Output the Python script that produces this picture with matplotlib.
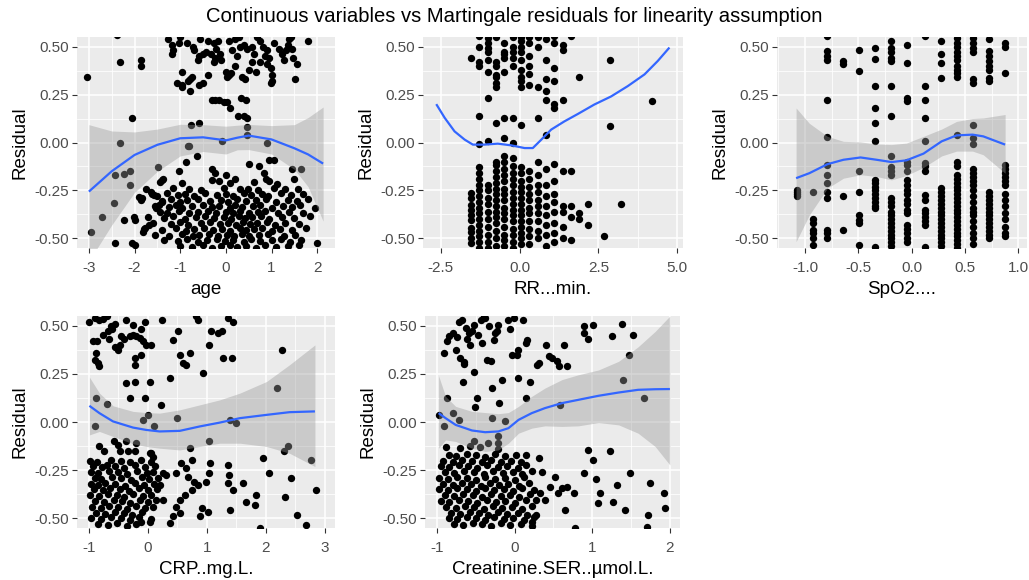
import matplotlib
matplotlib.use("Agg")
import matplotlib.pyplot as plt

plt.rcParams['font.family'] = ['Liberation Sans', 'DejaVu Sans']

# ---------------- data ----------------
title = "Continuous variables vs Martingale residuals for linearity assumption"
x_labels = ["age", "RR...min.", "SpO2....", "CRP..mg.L.", "Creatinine.SER..\u00b5mol.L."]
y_label = "Residual"
y_ticks = [-0.50, -0.25, 0.00, 0.25, 0.50]
y_ticklabels = ["-0.50", "-0.25", "0.00", "0.25", "0.50"]

age_ticks = [-3, -2, -1, 0, 1, 2]
age_ticklabels = ["-3", "-2", "-1", "0", "1", "2"]
rr_ticks = [-2.5, 0.0, 2.5, 5.0]
rr_ticklabels = ["-2.5", "0.0", "2.5", "5.0"]
spo2_ticks = [-1.0, -0.5, 0.0, 0.5, 1.0]
spo2_ticklabels = ["-1.0", "-0.5", "0.0", "0.5", "1.0"]
crp_ticks = [-1, 0, 1, 2, 3]
crp_ticklabels = ["-1", "0", "1", "2", "3"]
crea_ticks = [-1, 0, 1, 2]
crea_ticklabels = ["-1", "0", "1", "2"]

# age panel: (age, residual)
age_points = [
    (-3.04, 0.34), (-2.38, 0.56), (-2.31, 0.42), (-1.85, 0.43), (-1.85, 0.40), (-1.27, 0.54),
    (-1.17, 0.51), (-1.16, 0.48), (-1.18, 0.46), (-1.03, 0.52), (-1.00, 0.55), (-0.97, 0.37),
    (-1.06, 0.31), (-0.97, 0.29), (-0.95, 0.30), (-0.78, 0.27), (-0.78, 0.33), (-0.82, 0.32),
    (-0.74, 0.34), (-0.70, 0.48), (-0.72, 0.50), (-0.62, 0.43), (-0.58, 0.45), (-0.56, 0.54),
    (-0.50, 0.46), (-0.44, 0.47), (-0.33, 0.46), (-0.26, 0.52), (-0.22, 0.49), (-0.17, 0.53),
    (-0.58, 0.30), (-0.50, 0.31), (-0.40, 0.35), (-0.27, 0.42), (-0.23, 0.44), (-0.13, 0.46),
    (-0.10, 0.43), (0.00, 0.37), (0.03, 0.34), (0.06, 0.35), (0.12, 0.36), (0.06, 0.53),
    (0.21, 0.54), (0.28, 0.55), (0.13, 0.48), (0.24, 0.45), (-0.30, 0.22), (-0.23, 0.22),
    (-0.16, 0.22), (-0.05, 0.21), (0.03, 0.21), (0.10, 0.18), (0.26, 0.14), (0.40, 0.14),
    (0.47, 0.13), (0.33, 0.23), (0.44, 0.22), (0.40, 0.51), (0.47, 0.49), (0.58, 0.50),
    (0.62, 0.46), (0.58, 0.42), (0.50, 0.38), (0.43, 0.33), (0.36, 0.34), (0.65, 0.37),
    (0.74, 0.53), (0.81, 0.50), (0.91, 0.48), (0.94, 0.44), (0.91, 0.41), (0.98, 0.39),
    (1.02, 0.35), (1.02, 0.32), (0.98, 0.31), (1.17, 0.49), (1.24, 0.46), (1.28, 0.43),
    (1.31, 0.48), (1.35, 0.51), (1.39, 0.54), (1.42, 0.55), (1.45, 0.49), (1.48, 0.44),
    (1.51, 0.33), (1.55, 0.41), (1.80, 0.53), (0.85, 0.45), (0.75, 0.42), (0.68, 0.55),
    (1.05, 0.52), (-0.85, 0.52), (-0.40, 0.53), (0.20, 0.40), (0.30, 0.50),
    (-2.31, 0.00), (-2.05, 0.13), (-0.84, -0.02), (-0.80, -0.02), (-0.77, 0.09), (-0.58, 0.10),
    (-0.08, 0.01), (0.47, 0.08), (0.47, 0.04), (0.90, 0.00),
    (-0.88, -0.10), (-0.63, -0.07), (-1.03, -0.15), (-0.30, -0.14), (0.50, -0.11), (0.72, -0.12),
    (0.94, -0.09), (1.05, -0.09), (1.45, -0.14), (1.64, -0.14), (0.83, -0.16), (0.87, -0.19),
    (0.00, -0.17), (-0.23, -0.16), (-1.48, -0.13), (-1.39, -0.195),
    (-2.43, -0.172), (-2.23, -0.163), (-2.10, -0.151), (-2.45, -0.317), (-2.71, -0.386),
    (-2.96, -0.469), (-2.43, -0.526), (-2.23, -0.404), (-2.10, -0.221), (-2.01, -0.387),
    (-1.99, -0.404), (-2.05, -0.526), (-1.99, -0.535), (-1.91, -0.282), (-1.83, -0.29),
    (-1.82, -0.469), (-1.76, -0.448), (-1.69, -0.43), (-1.65, -0.256), (-1.58, -0.273),
    (-1.54, -0.343), (-1.47, -0.325), (-1.39, -0.308),
    (-1.45, -0.205), (-1.38, -0.19), (-0.95, -0.21), (-0.30, -0.195), (-0.15, -0.2), (0.08, -0.21),
    (0.20, -0.19), (0.62, -0.205), (0.95, -0.2), (1.12, -0.215), (1.50, -0.19),
    (-1.75, -0.245), (-1.15, -0.235), (-0.80, -0.24), (-0.55, -0.25), (-0.05, -0.235), (0.30, -0.245),
    (0.48, -0.24), (0.70, -0.25), (1.05, -0.235), (1.30, -0.245), (1.58, -0.24),
    (-1.62, -0.27), (-1.50, -0.28), (-1.30, -0.265), (-1.05, -0.275), (-0.90, -0.27), (-0.70, -0.28),
    (-0.45, -0.265), (-0.20, -0.275), (0.00, -0.27), (0.15, -0.28), (0.40, -0.265), (0.55, -0.275),
    (0.80, -0.27), (0.92, -0.28), (1.20, -0.265), (1.42, -0.275), (1.70, -0.27),
    (-1.85, -0.30), (-1.40, -0.305), (-1.20, -0.295), (-1.00, -0.31), (-0.85, -0.30), (-0.62, -0.295),
    (-0.35, -0.305), (-0.10, -0.30), (0.05, -0.31), (0.25, -0.295), (0.45, -0.305), (0.65, -0.30),
    (0.88, -0.295), (1.10, -0.31), (1.35, -0.30), (1.55, -0.305), (1.80, -0.295),
    (-1.55, -0.33), (-1.25, -0.335), (-1.10, -0.325), (-0.95, -0.34), (-0.75, -0.33), (-0.50, -0.325),
    (-0.30, -0.335), (-0.15, -0.33), (0.10, -0.34), (0.20, -0.325), (0.35, -0.335), (0.60, -0.33),
    (0.75, -0.325), (1.00, -0.34), (1.25, -0.33), (1.45, -0.335), (1.62, -0.325), (1.95, -0.34),
    (-1.45, -0.36), (-1.30, -0.365), (-1.02, -0.355), (-0.80, -0.37), (-0.60, -0.36), (-0.40, -0.355),
    (-0.22, -0.365), (0.00, -0.36), (0.15, -0.37), (0.30, -0.355), (0.50, -0.365), (0.70, -0.36),
    (0.85, -0.355), (1.15, -0.37), (1.38, -0.36), (1.70, -0.365),
    (-1.70, -0.39), (-1.35, -0.395), (-1.15, -0.385), (-0.90, -0.40), (-0.65, -0.39), (-0.45, -0.385),
    (-0.25, -0.395), (-0.05, -0.39), (0.12, -0.40), (0.28, -0.385), (0.42, -0.395), (0.58, -0.39),
    (0.78, -0.385), (0.95, -0.40), (1.22, -0.39), (1.50, -0.395), (1.85, -0.385),
    (-1.60, -0.42), (-1.20, -0.425), (-1.00, -0.415), (-0.82, -0.43), (-0.55, -0.42), (-0.35, -0.415),
    (-0.12, -0.425), (0.05, -0.42), (0.22, -0.43), (0.38, -0.415), (0.52, -0.425), (0.68, -0.42),
    (0.90, -0.415), (1.08, -0.43), (1.30, -0.42), (1.60, -0.425),
    (-1.80, -0.45), (-1.40, -0.455), (-1.10, -0.445), (-0.88, -0.46), (-0.70, -0.45), (-0.48, -0.445),
    (-0.28, -0.455), (-0.08, -0.45), (0.10, -0.46), (0.30, -0.445), (0.45, -0.455), (0.62, -0.45),
    (0.80, -0.445), (1.02, -0.46), (1.18, -0.45), (1.45, -0.455), (1.75, -0.445),
    (-1.55, -0.48), (-1.25, -0.485), (-0.95, -0.475), (-0.72, -0.49), (-0.58, -0.48), (-0.38, -0.475),
    (-0.18, -0.485), (0.02, -0.48), (0.18, -0.49), (0.35, -0.475), (0.50, -0.485), (0.72, -0.48),
    (0.92, -0.475), (1.28, -0.49), (1.52, -0.48),
    (-1.35, -0.51), (-1.05, -0.515), (-0.85, -0.505), (-0.62, -0.52), (-0.42, -0.51), (-0.20, -0.505),
    (-0.02, -0.515), (0.15, -0.51), (0.40, -0.52), (0.55, -0.505), (0.75, -0.515), (1.00, -0.51),
    (1.20, -0.505), (1.40, -0.52), (1.65, -0.51),
    (-1.00, -0.54), (-0.75, -0.545), (-0.50, -0.535), (-0.30, -0.55), (-0.10, -0.54), (0.10, -0.535),
    (0.25, -0.545), (0.45, -0.54), (0.65, -0.55), (0.85, -0.535), (1.10, -0.545), (1.35, -0.54),
    (1.60, -0.535), (2.00, -0.525),
]
age_fit_x = [-3.0, -2.5, -2.0, -1.5, -1.0, -0.5, 0.0, 0.25, 0.5, 1.0, 1.5, 1.8, 2.13]
age_fit = [-0.256, -0.15, -0.065, -0.012, 0.022, 0.027, 0.011, 0.025, 0.036, 0.016, -0.03, -0.062, -0.11]
age_hi = [0.093, 0.06, 0.055, 0.07, 0.095, 0.093, 0.085, 0.09, 0.094, 0.088, 0.093, 0.13, 0.185]
age_lo = [-0.62, -0.43, -0.26, -0.15, -0.07, -0.047, -0.06, -0.038, -0.037, -0.06, -0.14, -0.23, -0.41]

# RR panel: discrete levels with residuals at each level
rr_levels = [-1.53, -1.27, -1.00, -0.74, -0.48, -0.21, 0.05, 0.31, 0.58, 0.84,
             1.10, 1.37, 1.63, 1.89, 2.16, 2.68, 2.88, 3.21, 4.20]
rr_res = [
    [0.44, -0.264, -0.29, -0.325, -0.35, -0.378, -0.404, -0.448, -0.465, -0.50, -0.526],
    [0.556, 0.50, 0.42, 0.40, 0.137, -0.01, -0.13, -0.16, -0.19, -0.22, -0.25, -0.28, -0.31, -0.34,
     -0.37, -0.40, -0.43, -0.46, -0.49, -0.52, -0.55],
    [0.547, 0.52, 0.495, 0.47, 0.43, 0.37, 0.233, 0.006, -0.22, -0.25, -0.29, -0.32, -0.36, -0.40,
     -0.44, -0.48, -0.52, -0.55],
    [0.55, 0.42, 0.40, 0.35, 0.34, 0.31, 0.29, 0.10, -0.10, -0.115, -0.15, -0.18, -0.21, -0.24, -0.27,
     -0.30, -0.33, -0.36, -0.39, -0.42, -0.46, -0.50, -0.54],
    [0.52, 0.47, 0.46, 0.44, 0.37, 0.13, 0.024, -0.07, -0.10, -0.14, -0.17, -0.20, -0.24, -0.27, -0.30,
     -0.34, -0.37, -0.40, -0.44, -0.48, -0.51, -0.54],
    [0.55, 0.50, 0.47, 0.44, 0.40, 0.13, 0.0, -0.08, -0.12, -0.16, -0.19, -0.22, -0.26, -0.29, -0.32,
     -0.35, -0.38, -0.41, -0.45, -0.48, -0.52, -0.55],
    [0.55, 0.53, 0.50, 0.47, 0.43, 0.38, 0.34, 0.32, 0.29, 0.093, -0.13, -0.16, -0.20, -0.23, -0.26,
     -0.29, -0.32, -0.35, -0.38, -0.41, -0.44, -0.47, -0.50, -0.53],
    [0.55, 0.52, 0.45, 0.40, 0.355, 0.30, -0.15, -0.19, -0.23, -0.27, -0.30, -0.34, -0.37, -0.41,
     -0.45, -0.49, -0.53],
    [0.55, 0.50, 0.29, 0.13, -0.10, -0.17, -0.22, -0.26, -0.30, -0.33, -0.37, -0.41, -0.46, -0.50],
    [0.54, 0.43, 0.33, 0.27, 0.22, 0.04, -0.14, -0.22, -0.28, -0.33, -0.38, -0.43, -0.48, -0.54],
    [0.556, 0.52, 0.39, 0.32, 0.20, 0.18, -0.11, -0.20, -0.27, -0.31, -0.36, -0.42, -0.47, -0.52],
    [0.51, 0.48, 0.22, -0.15, -0.33, -0.36, -0.44, -0.50],
    [0.556, -0.15, -0.33, -0.39, -0.51],
    [0.34, -0.37, -0.40],
    [-0.32, -0.43],
    [-0.49],
    [0.43, 0.085],
    [-0.32],
    [0.215],
]
rr_fit_x = [-2.64, -2.37, -2.06, -1.74, -1.48, -1.11, -0.69, -0.26, 0.16, 0.42, 0.69, 1.0, 1.42,
            1.85, 2.37, 2.9, 3.43, 3.96, 4.38, 4.75]
rr_fit = [0.20, 0.128, 0.058, 0.015, -0.011, -0.011, -0.006, -0.015, -0.029, -0.029, 0.015, 0.067,
          0.11, 0.149, 0.198, 0.24, 0.294, 0.355, 0.425, 0.495]

# SpO2 panel: discrete levels
spo2_levels = [-1.08, -0.93, -0.79, -0.64, -0.49, -0.34, -0.19, -0.04, 0.12, 0.27, 0.42, 0.57, 0.72, 0.87]
spo2_res = [
    [-0.25, -0.26, -0.27, -0.28],
    [-0.26, -0.40, -0.42, -0.456, -0.474, -0.50, -0.535],
    [0.556, 0.477, 0.45, 0.43, 0.224, 0.027, -0.116, -0.168, -0.212, -0.256, -0.29, -0.456, -0.474, -0.50],
    [0.425, 0.41, -0.28, -0.456],
    [0.48, 0.373, -0.15, -0.26, -0.378, -0.404, -0.42, -0.535],
    [0.495, 0.434, 0.294, 0.18, 0.10, 0.006, -0.195, -0.21, -0.23, -0.25, -0.27, -0.29, -0.31, -0.33,
     -0.343, -0.544],
    [0.53, 0.495, 0.47, 0.44, 0.425, 0.294, 0.137, -0.072, -0.13, -0.15, -0.168, -0.29, -0.31, -0.33,
     -0.36, -0.38, -0.40, -0.42, -0.44, -0.46, -0.48, -0.50, -0.52, -0.54],
    [0.51, 0.416, 0.233, 0.215, -0.10, -0.116, -0.15, -0.195, -0.22, -0.25, -0.27, -0.30, -0.32, -0.35,
     -0.37, -0.43, -0.45, -0.47, -0.50, -0.52],
    [0.556, 0.294, 0.224, 0.128, 0.006, -0.107, -0.125, -0.15, -0.273, -0.30, -0.35, -0.37, -0.39,
     -0.41, -0.43, -0.544],
    [0.53, 0.46, 0.416, 0.338, -0.238, -0.26, -0.28, -0.30, -0.32, -0.34, -0.36, -0.38, -0.40, -0.42,
     -0.44, -0.46, -0.48, -0.50, -0.52, -0.54],
    [0.547, 0.52, 0.50, 0.47, 0.45, 0.43, 0.40, 0.38, 0.36, 0.34, 0.04, -0.10, -0.12, -0.17, -0.19,
     -0.21, -0.23, -0.25, -0.27, -0.29, -0.31, -0.33, -0.35, -0.37, -0.39, -0.41, -0.43, -0.45, -0.47,
     -0.49, -0.51, -0.53, -0.55],
    [0.547, 0.52, 0.495, 0.47, 0.33, 0.31, 0.093, 0.024, -0.01, -0.14, -0.16, -0.18, -0.20, -0.22,
     -0.25, -0.28, -0.31, -0.34, -0.36, -0.38, -0.41, -0.44, -0.47, -0.50, -0.53],
    [0.54, 0.477, 0.45, 0.425, 0.40, 0.38, 0.338, 0.32, -0.26, -0.28, -0.30, -0.32, -0.34, -0.36,
     -0.38, -0.40, -0.42, -0.44, -0.46, -0.48, -0.50],
    [0.52, 0.50, 0.364, -0.116, -0.14, -0.16, -0.18, -0.20, -0.22, -0.27, -0.30, -0.33, -0.37, -0.40,
     -0.44, -0.47, -0.49],
]
spo2_fit_x = [-1.084, -0.96, -0.79, -0.64, -0.48, -0.33, -0.19, -0.05, 0.11, 0.28, 0.42, 0.57, 0.67, 0.875]
spo2_fit = [-0.186, -0.16, -0.113, -0.09, -0.078, -0.09, -0.102, -0.093, -0.058, 0.006, 0.037, 0.041,
            0.032, -0.011]
spo2_hi = [0.18, 0.10, 0.032, 0.006, 0.003, -0.008, -0.011, -0.003, 0.032, 0.07, 0.11, 0.125, 0.128, 0.146]
spo2_lo = [-0.517, -0.378, -0.238, -0.186, -0.168, -0.177, -0.195, -0.172, -0.13, -0.07, -0.045,
           -0.045, -0.064, -0.16]

# CRP panel: (crp, residual)
crp_points = [
    (-0.99, 0.517), (-0.90, 0.54), (-0.82, 0.53), (-0.76, 0.535), (-0.70, 0.55), (-0.93, 0.42),
    (-0.86, 0.42), (-0.88, 0.36), (-0.90, 0.32), (-0.85, 0.305), (-0.82, 0.29), (-0.76, 0.45),
    (-0.68, 0.47), (-0.62, 0.50), (-0.56, 0.51), (-0.51, 0.375), (-0.48, 0.40), (-0.45, 0.445),
    (-0.37, 0.53), (-0.40, 0.43), (-0.31, 0.445), (-0.25, 0.453), (-0.25, 0.505), (-0.20, 0.445),
    (-0.14, 0.436), (-0.08, 0.42), (-0.03, 0.40), (0.06, 0.40), (-0.37, 0.20), (-0.22, 0.21),
    (-0.22, 0.33), (-0.22, 0.297), (-0.30, 0.124), (-0.11, 0.35), (-0.04, 0.124), (0.04, 0.21),
    (0.24, 0.53), (0.23, 0.09), (0.37, 0.23), (0.43, 0.427), (0.51, 0.47), (0.54, 0.35), (0.59, 0.306),
    (0.65, 0.297), (0.71, 0.358), (0.82, 0.55), (0.85, 0.53), (0.94, 0.254), (1.04, 0.40), (1.07, 0.47),
    (1.19, 0.46), (1.25, 0.47), (1.28, 0.33), (1.42, 0.33), (1.36, 0.54), (1.44, 0.52), (2.27, 0.375),
    (2.18, 0.176), (-0.60, 0.48), (-0.55, 0.39), (-0.65, 0.43), (-0.12, 0.48), (-0.05, 0.52),
    (-0.88, 0.124), (-0.70, 0.094), (-0.90, -0.02), (-0.08, 0.011), (0.00, 0.037), (0.10, -0.02),
    (0.50, 0.02), (1.04, -0.10), (1.39, 0.011), (1.50, -0.003), (2.37, -0.127), (2.30, -0.153),
    (2.77, -0.197), (1.95, -0.188), (2.06, -0.263), (2.43, -0.292), (2.85, -0.353), (2.32, -0.387),
    (1.84, -0.378), (1.81, -0.43), (1.67, -0.413), (2.52, -0.483), (2.68, -0.535), (1.90, -0.552),
    (1.39, -0.456), (1.61, -0.318), (1.44, -0.353), (1.36, -0.318), (1.37, -0.275), (1.36, -0.223),
    (1.04, -0.266), (1.05, -0.214), (0.99, -0.309), (1.02, -0.465), (0.91, -0.448), (0.88, -0.49),
    (0.71, -0.136), (0.74, -0.197), (0.65, -0.24), (0.68, -0.283), (0.79, -0.309), (0.85, -0.327),
    (0.74, -0.353), (0.63, -0.378), (0.54, -0.405), (0.48, -0.44), (0.54, -0.474), (0.43, -0.49),
    (0.37, -0.526), (0.48, -0.266), (0.57, -0.214), (0.31, -0.275), (0.25, -0.266), (0.20, -0.327),
    (0.14, -0.405), (0.25, -0.405), (0.09, -0.44), (0.03, -0.517), (-0.11, -0.517), (0.06, -0.162),
    (0.09, -0.18), (-0.57, -0.10), (-0.50, -0.12), (-0.37, -0.10), (-0.20, -0.11), (-0.82, -0.127),
    (-0.74, -0.153), (-0.48, -0.153), (-0.34, -0.153), (-0.22, -0.153), (0.03, -0.162),
    (-0.98, -0.20), (-0.86, -0.205), (-0.62, -0.195), (-0.45, -0.20), (-0.30, -0.21), (-0.12, -0.195),
    (0.05, -0.205),
    (-0.93, -0.23), (-0.78, -0.235), (-0.70, -0.225), (-0.55, -0.23), (-0.40, -0.24), (-0.22, -0.225),
    (-0.05, -0.235), (0.12, -0.23),
    (-0.96, -0.26), (-0.84, -0.265), (-0.66, -0.255), (-0.50, -0.26), (-0.35, -0.27), (-0.18, -0.255),
    (-0.02, -0.265), (0.08, -0.26),
    (-0.90, -0.29), (-0.80, -0.295), (-0.60, -0.285), (-0.45, -0.29), (-0.28, -0.30), (-0.10, -0.285),
    (0.02, -0.295), (0.18, -0.29),
    (-0.97, -0.32), (-0.85, -0.325), (-0.72, -0.315), (-0.55, -0.32), (-0.38, -0.33), (-0.22, -0.315),
    (-0.06, -0.325), (0.10, -0.32),
    (-0.92, -0.35), (-0.76, -0.355), (-0.64, -0.345), (-0.48, -0.35), (-0.32, -0.36), (-0.15, -0.345),
    (0.00, -0.355), (0.15, -0.35),
    (-0.98, -0.38), (-0.82, -0.385), (-0.68, -0.375), (-0.52, -0.38), (-0.40, -0.39), (-0.25, -0.375),
    (-0.08, -0.385), (0.05, -0.38),
    (-0.90, -0.41), (-0.75, -0.415), (-0.58, -0.405), (-0.44, -0.41), (-0.30, -0.42), (-0.14, -0.405),
    (0.00, -0.415),
    (-0.95, -0.44), (-0.80, -0.445), (-0.66, -0.435), (-0.50, -0.44), (-0.36, -0.45), (-0.20, -0.435),
    (-0.04, -0.445),
    (-0.88, -0.47), (-0.72, -0.475), (-0.55, -0.465), (-0.40, -0.47), (-0.26, -0.48), (-0.10, -0.465),
    (-0.96, -0.50), (-0.80, -0.505), (-0.62, -0.495), (-0.46, -0.50), (-0.30, -0.51), (-0.15, -0.495),
    (0.05, -0.505),
    (-0.85, -0.53), (-0.68, -0.535), (-0.52, -0.525), (-0.35, -0.54), (-0.20, -0.53),
]
crp_fit_x = [-0.99, -0.82, -0.59, -0.25, -0.03, 0.2, 0.54, 0.88, 1.22, 1.56, 2.01, 2.4, 2.83]
crp_fit = [0.084, 0.046, 0.003, -0.029, -0.041, -0.049, -0.046, -0.023, -0.003, 0.02, 0.037, 0.051, 0.055]
crp_hi = [0.233, 0.15, 0.084, 0.055, 0.049, 0.046, 0.063, 0.089, 0.115, 0.15, 0.21, 0.297, 0.40]
crp_lo = [-0.067, -0.049, -0.075, -0.113, -0.127, -0.136, -0.145, -0.127, -0.11, -0.11, -0.127,
          -0.162, -0.231]

# Creatinine panel: (creatinine, residual)
crea_points = [
    (-0.91, 0.358), (-0.87, 0.42), (-0.85, 0.445), (-0.80, 0.46), (-0.76, 0.375), (-0.72, 0.52),
    (-0.70, 0.33), (-0.65, 0.31), (-0.65, 0.30), (-0.68, 0.53), (-0.63, 0.49), (-0.61, 0.43),
    (-0.59, 0.46), (-0.57, 0.40), (-0.55, 0.47), (-0.52, 0.26), (-0.52, 0.505), (-0.67, 0.21),
    (-0.51, 0.08), (-0.49, 0.124), (-0.44, 0.53), (-0.42, 0.41), (-0.38, 0.54), (-0.36, 0.32),
    (-0.31, 0.315), (-0.29, 0.176), (-0.27, 0.427), (-0.25, 0.46), (-0.23, 0.47), (-0.21, 0.505),
    (-0.20, 0.098), (-0.16, 0.22), (-0.09, 0.53), (-0.06, 0.48), (-0.04, 0.35), (-0.01, 0.54),
    (0.03, 0.35), (0.04, 0.375), (0.04, 0.228), (0.11, 0.53), (0.14, 0.41), (0.16, 0.427),
    (0.14, 0.124), (0.20, 0.21), (0.29, 0.297), (0.31, 0.306), (0.41, 0.40), (0.44, 0.34), (0.48, 0.33),
    (0.54, 0.315), (0.57, 0.29), (0.63, 0.40), (0.67, 0.29), (0.89, 0.497), (0.89, 0.46), (0.95, 0.43),
    (1.01, 0.505), (1.25, 0.445), (1.38, 0.51), (1.47, 0.35), (1.53, 0.453), (1.40, 0.22), (1.67, 0.124),
    (-0.40, 0.55), (-0.33, 0.50), (-0.47, 0.45), (-0.74, 0.44),
    (-0.98, 0.037), (-0.91, -0.02), (-0.80, 0.046), (-0.72, 0.011), (-0.87, 0.124), (-0.53, -0.10),
    (-0.34, -0.11), (-0.29, 0.02), (-0.21, -0.075), (-0.21, -0.11), (-0.12, 0.003), (0.59, 0.089),
    (0.14, -0.17), (0.31, -0.188), (0.95, -0.145), (1.01, -0.197), (1.23, -0.153), (0.89, -0.266),
    (1.05, -0.297), (1.10, -0.367), (1.32, -0.327), (1.27, -0.413), (1.08, -0.422), (1.49, -0.263),
    (1.42, -0.457), (1.74, -0.318), (1.92, -0.367), (1.94, -0.448), (1.72, -0.48), (1.70, -0.543),
    (0.78, -0.552), (0.65, -0.457), (0.61, -0.344), (0.67, -0.335), (0.76, -0.37), (0.56, -0.37),
    (0.52, -0.283), (0.46, -0.335), (0.35, -0.257), (0.39, -0.405), (0.27, -0.405), (0.33, -0.37),
    (0.22, -0.517), (0.27, -0.483),
    (-0.88, -0.13), (-0.70, -0.135), (-0.58, -0.125), (-0.45, -0.13), (-0.22, -0.14),
    (-0.85, -0.17), (-0.75, -0.175), (-0.62, -0.165), (-0.50, -0.17), (-0.38, -0.18), (-0.25, -0.165),
    (-0.12, -0.175), (0.02, -0.17),
    (-0.92, -0.20), (-0.80, -0.205), (-0.68, -0.195), (-0.55, -0.20), (-0.42, -0.21), (-0.30, -0.195),
    (-0.18, -0.205), (-0.05, -0.20), (0.08, -0.21),
    (-0.95, -0.23), (-0.84, -0.235), (-0.72, -0.225), (-0.60, -0.23), (-0.48, -0.24), (-0.35, -0.225),
    (-0.22, -0.235), (-0.10, -0.23), (0.04, -0.24), (0.15, -0.225),
    (-0.90, -0.26), (-0.78, -0.265), (-0.65, -0.255), (-0.52, -0.26), (-0.40, -0.27), (-0.28, -0.255),
    (-0.15, -0.265), (-0.02, -0.26), (0.10, -0.27), (0.22, -0.255),
    (-0.97, -0.29), (-0.86, -0.295), (-0.74, -0.285), (-0.62, -0.29), (-0.50, -0.30), (-0.38, -0.285),
    (-0.25, -0.295), (-0.12, -0.29), (0.00, -0.30), (0.12, -0.285),
    (-0.92, -0.32), (-0.80, -0.325), (-0.68, -0.315), (-0.56, -0.32), (-0.44, -0.33), (-0.32, -0.315),
    (-0.20, -0.325), (-0.08, -0.32), (0.05, -0.33), (0.18, -0.315),
    (-0.98, -0.35), (-0.86, -0.355), (-0.74, -0.345), (-0.62, -0.35), (-0.50, -0.36), (-0.38, -0.345),
    (-0.26, -0.355), (-0.14, -0.35), (-0.02, -0.36), (0.10, -0.345), (0.25, -0.355),
    (-0.90, -0.38), (-0.78, -0.385), (-0.66, -0.375), (-0.54, -0.38), (-0.42, -0.39), (-0.30, -0.375),
    (-0.18, -0.385), (-0.06, -0.38), (0.06, -0.39), (0.20, -0.375),
    (-0.95, -0.41), (-0.84, -0.415), (-0.72, -0.405), (-0.60, -0.41), (-0.48, -0.42), (-0.36, -0.405),
    (-0.24, -0.415), (-0.12, -0.41), (0.00, -0.42), (0.14, -0.405),
    (-0.88, -0.44), (-0.76, -0.445), (-0.64, -0.435), (-0.52, -0.44), (-0.40, -0.45), (-0.28, -0.435),
    (-0.16, -0.445), (-0.04, -0.44), (0.10, -0.45), (0.22, -0.435),
    (-0.82, -0.47), (-0.70, -0.475), (-0.58, -0.465), (-0.46, -0.47), (-0.34, -0.48), (-0.22, -0.465),
    (-0.10, -0.475), (0.04, -0.47), (0.16, -0.48),
    (-0.85, -0.50), (-0.74, -0.505), (-0.62, -0.495), (-0.50, -0.50), (-0.38, -0.51), (-0.26, -0.495),
    (-0.14, -0.505), (-0.02, -0.50), (0.12, -0.51), (0.25, -0.495),
    (-0.78, -0.53), (-0.66, -0.535), (-0.54, -0.525), (-0.42, -0.53), (-0.30, -0.54), (-0.18, -0.525),
    (-0.06, -0.535), (0.08, -0.53), (0.22, -0.54),
]
crea_fit_x = [-0.98, -0.89, -0.76, -0.55, -0.38, -0.21, -0.08, 0.05, 0.22, 0.39, 0.61, 0.82, 1.08,
              1.34, 1.59, 1.81, 2.0]
crea_fit = [0.046, 0.02, -0.015, -0.044, -0.053, -0.049, -0.032, 0.011, 0.046, 0.072, 0.098, 0.115,
            0.136, 0.153, 0.167, 0.17, 0.171]
crea_hi = [0.24, 0.133, 0.081, 0.055, 0.049, 0.043, 0.049, 0.081, 0.133, 0.176, 0.22, 0.245, 0.27,
           0.315, 0.39, 0.47, 0.55]
crea_lo = [-0.136, -0.093, -0.101, -0.136, -0.153, -0.145, -0.11, -0.058, -0.032, -0.02, -0.023,
           -0.02, -0.003, -0.015, -0.058, -0.127, -0.223]

# ---------------- drawing ----------------
W, H = 1029, 580
fig = plt.figure(figsize=(W / 100, H / 100), dpi=100)
fig.patch.set_facecolor('white')


def add_panel(l, r, t, b):
    return fig.add_axes([l / W, 1 - b / H, (r - l) / W, (b - t) / H])


def style(ax, xlim, xticks, xticklabels, xlabel):
    ax.set_facecolor('#EBEBEB')
    ax.set_xticks(xticks)
    ax.set_xticklabels(xticklabels)
    step = xticks[1] - xticks[0]
    minors = [xticks[0] - step / 2] + [(a + b) / 2 for a, b in zip(xticks[:-1], xticks[1:])] \
        + [xticks[-1] + step / 2]
    ax.set_xticks(minors, minor=True)
    ax.set_yticks(y_ticks)
    ax.set_yticklabels(y_ticklabels)
    ax.set_yticks([-0.375, -0.125, 0.125, 0.375], minor=True)
    ax.set_xlim(*xlim)
    ax.set_ylim(-0.55, 0.55)
    ax.grid(which='major', color='white', lw=1.1)
    ax.grid(which='minor', color='white', lw=0.55)
    ax.set_axisbelow(True)
    for s in ax.spines.values():
        s.set_visible(False)
    ax.tick_params(which='major', length=3.4, width=0.8, color='#333333', labelsize=11,
                   labelcolor='#4D4D4D', pad=2.5)
    ax.tick_params(axis='x', which='major', pad=6.0)
    ax.tick_params(which='minor', length=0)
    ax.set_xlabel(xlabel, fontsize=13.5, labelpad=4.5)
    ax.set_ylabel(y_label, fontsize=13.5, labelpad=4)


def draw(ax, xs, ys, fx, fy, lo=None, hi=None):
    ax.scatter(xs, ys, s=28, c='black', linewidths=0, zorder=2)
    if lo is not None:
        ax.fill_between(fx, lo, hi, color='#999999', alpha=0.4, lw=0, zorder=3)
    ax.plot(fx, fy, color='#3366FF', lw=1.6, zorder=4, solid_capstyle='butt')


# panel 1: age
ax1 = add_panel(77, 335, 37, 248)
draw(ax1, [p[0] for p in age_points], [p[1] for p in age_points], age_fit_x, age_fit, age_lo, age_hi)
style(ax1, (-3.26, 2.39), age_ticks, age_ticklabels, x_labels[0])

# panel 2: RR
ax2 = add_panel(423, 683, 37, 248)
rr_x = [lv for lv, rs in zip(rr_levels, rr_res) for _ in rs]
rr_y = [r for rs in rr_res for r in rs]
draw(ax2, rr_x, rr_y, rr_fit_x, rr_fit)
style(ax2, (-3.06, 5.18), rr_ticks, rr_ticklabels, x_labels[1])

# panel 3: SpO2
ax3 = add_panel(777, 1027, 37, 248)
sp_x = [lv for lv, rs in zip(spo2_levels, spo2_res) for _ in rs]
sp_y = [r for rs in spo2_res for r in rs]
draw(ax3, sp_x, sp_y, spo2_fit_x, spo2_fit, spo2_lo, spo2_hi)
style(ax3, (-1.263, 1.08), spo2_ticks, spo2_ticklabels, x_labels[2])

# panel 4: CRP
ax4 = add_panel(77, 335, 316, 528)
draw(ax4, [p[0] for p in crp_points], [p[1] for p in crp_points], crp_fit_x, crp_fit, crp_lo, crp_hi)
style(ax4, (-1.2, 3.17), crp_ticks, crp_ticklabels, x_labels[3])

# panel 5: Creatinine
ax5 = add_panel(425, 680, 316, 528)
draw(ax5, [p[0] for p in crea_points], [p[1] for p in crea_points], crea_fit_x, crea_fit, crea_lo, crea_hi)
style(ax5, (-1.155, 2.13), crea_ticks, crea_ticklabels, x_labels[4])

fig.text(0.5, 1 - 17 / H, title, ha='center', va='center', fontsize=14.6, color='black')

fig.savefig('out.png', dpi=100)
